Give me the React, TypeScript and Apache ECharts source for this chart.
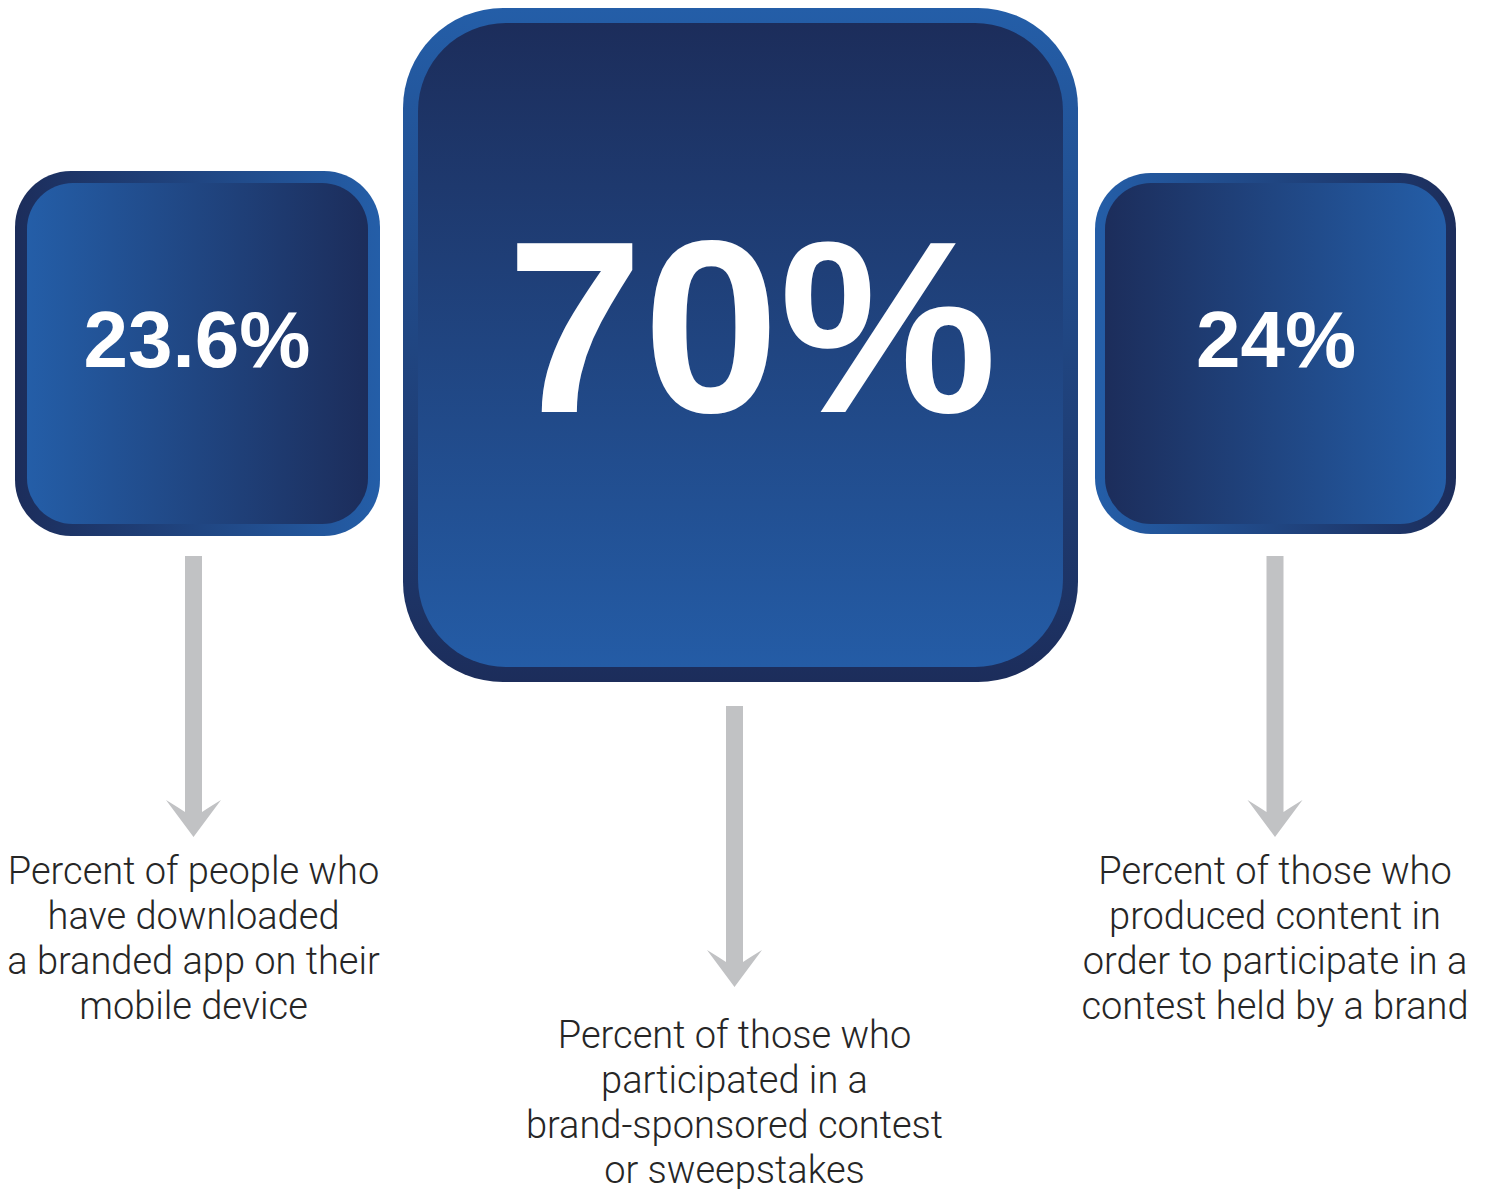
import React, { useEffect, useRef } from "react";
import * as echarts from "echarts";

// Headline statistics (percent) and the captions under each tile
const statValues: number[] = [23.6, 70, 24];
const statCaptions: string[][] = [
  ["Percent of people who", "have downloaded", "a branded app on their", "mobile device"],
  ["Percent of those who", "participated in a", "brand-sponsored contest", "or sweepstakes"],
  ["Percent of those who", "produced content in", "order to participate in a", "contest held by a brand"],
];

// Tile layout: outer frame, inner face, gradient direction, text sizes
type Tile = {
  x: number; y: number; w: number; h: number; r: number;
  border: number; innerR: number;
  dir: "ltr" | "rtl" | "ttb";
  cx: number; cy: number; valueSize: number;
  arrowTop: number; captionY: number;
};

const tiles: Tile[] = [
  { x: 15, y: 171, w: 365, h: 365, r: 56, border: 12, innerR: 46, dir: "ltr", cx: 197, cy: 339, valueSize: 80, arrowTop: 556, captionY: 871 },
  { x: 403, y: 8, w: 675, h: 674, r: 100, border: 15, innerR: 88, dir: "ttb", cx: 752, cy: 327, valueSize: 245, arrowTop: 706, captionY: 1035 },
  { x: 1095, y: 173, w: 361, h: 361, r: 56, border: 10, innerR: 46, dir: "rtl", cx: 1276, cy: 339, valueSize: 80, arrowTop: 556, captionY: 871 },
];
const arrowX = [193.5, 734.5, 1275];

const BRIGHT = "#245ea8";
const DARK = "#1c2d5b";

// Down arrow: slim shaft with a swept-back head (local coords, top centre at 0,0)
const ARROW_D =
  "M -8.5 0 L 8.5 0 L 8.5 256 Q 16 251 27.5 244 L 0 281 L -27.5 244 Q -16 251 -8.5 256 Z";
echarts.graphic.registerShape("downArrow", (echarts.graphic as any).extendPath(ARROW_D, {}));

function grad(dir: "ltr" | "rtl" | "ttb", from: string, to: string) {
  if (dir === "ttb") return new echarts.graphic.LinearGradient(0, 0, 0, 1, [
    { offset: 0, color: from }, { offset: 1, color: to },
  ]);
  const a = dir === "ltr" ? from : to;
  const b = dir === "ltr" ? to : from;
  return new echarts.graphic.LinearGradient(0, 0, 1, 0, [
    { offset: 0, color: a }, { offset: 1, color: b },
  ]);
}

export default function App() {
  const ref = useRef<HTMLDivElement>(null);

  useEffect(() => {
    if (!ref.current) return;
    const chart = echarts.init(ref.current, undefined, { renderer: "svg" });

    const elements: any[] = [];
    tiles.forEach((t, i) => {
      // Frame: gradient runs opposite to the face for a bevelled look
      const frameFill = t.dir === "ttb" ? grad("ttb", BRIGHT, DARK) : grad(t.dir, DARK, BRIGHT);
      const faceFill = t.dir === "ttb" ? grad("ttb", DARK, "#245ca6") : grad(t.dir, BRIGHT, DARK);
      elements.push({
        type: "rect",
        shape: { x: t.x, y: t.y, width: t.w, height: t.h, r: t.r },
        style: { fill: frameFill },
      });
      elements.push({
        type: "rect",
        shape: {
          x: t.x + t.border, y: t.y + t.border,
          width: t.w - 2 * t.border, height: t.h - 2 * t.border, r: t.innerR,
        },
        style: { fill: faceFill },
      });
      elements.push({
        type: "text",
        x: t.cx, y: t.cy,
        style: {
          text: `${statValues[i]}%`,
          fill: "#ffffff",
          font: `bold ${t.valueSize}px "Liberation Sans", Arial, sans-serif`,
          align: "center",
          verticalAlign: "middle",
        },
      });
      elements.push({
        type: "downArrow",
        x: arrowX[i], y: t.arrowTop,
        style: { fill: "#c1c2c4" },
      });
      statCaptions[i].forEach((line, k) => {
        elements.push({
          type: "text",
          x: arrowX[i], y: t.captionY + k * 45,
          style: {
            text: line,
            fill: "#262626",
            font: `300 38px Roboto, "Liberation Sans", sans-serif`,
            align: "center",
            verticalAlign: "middle",
          },
        });
      });
    });

    chart.setOption({
      animation: false,
      backgroundColor: "#ffffff",
      graphic: { elements },
    });

    return () => chart.dispose();
  }, []);

  return (
    <div
      ref={ref}
      style={{ position: "fixed", left: 0, top: 0, width: 1492, height: 1189 }}
    />
  );
}
